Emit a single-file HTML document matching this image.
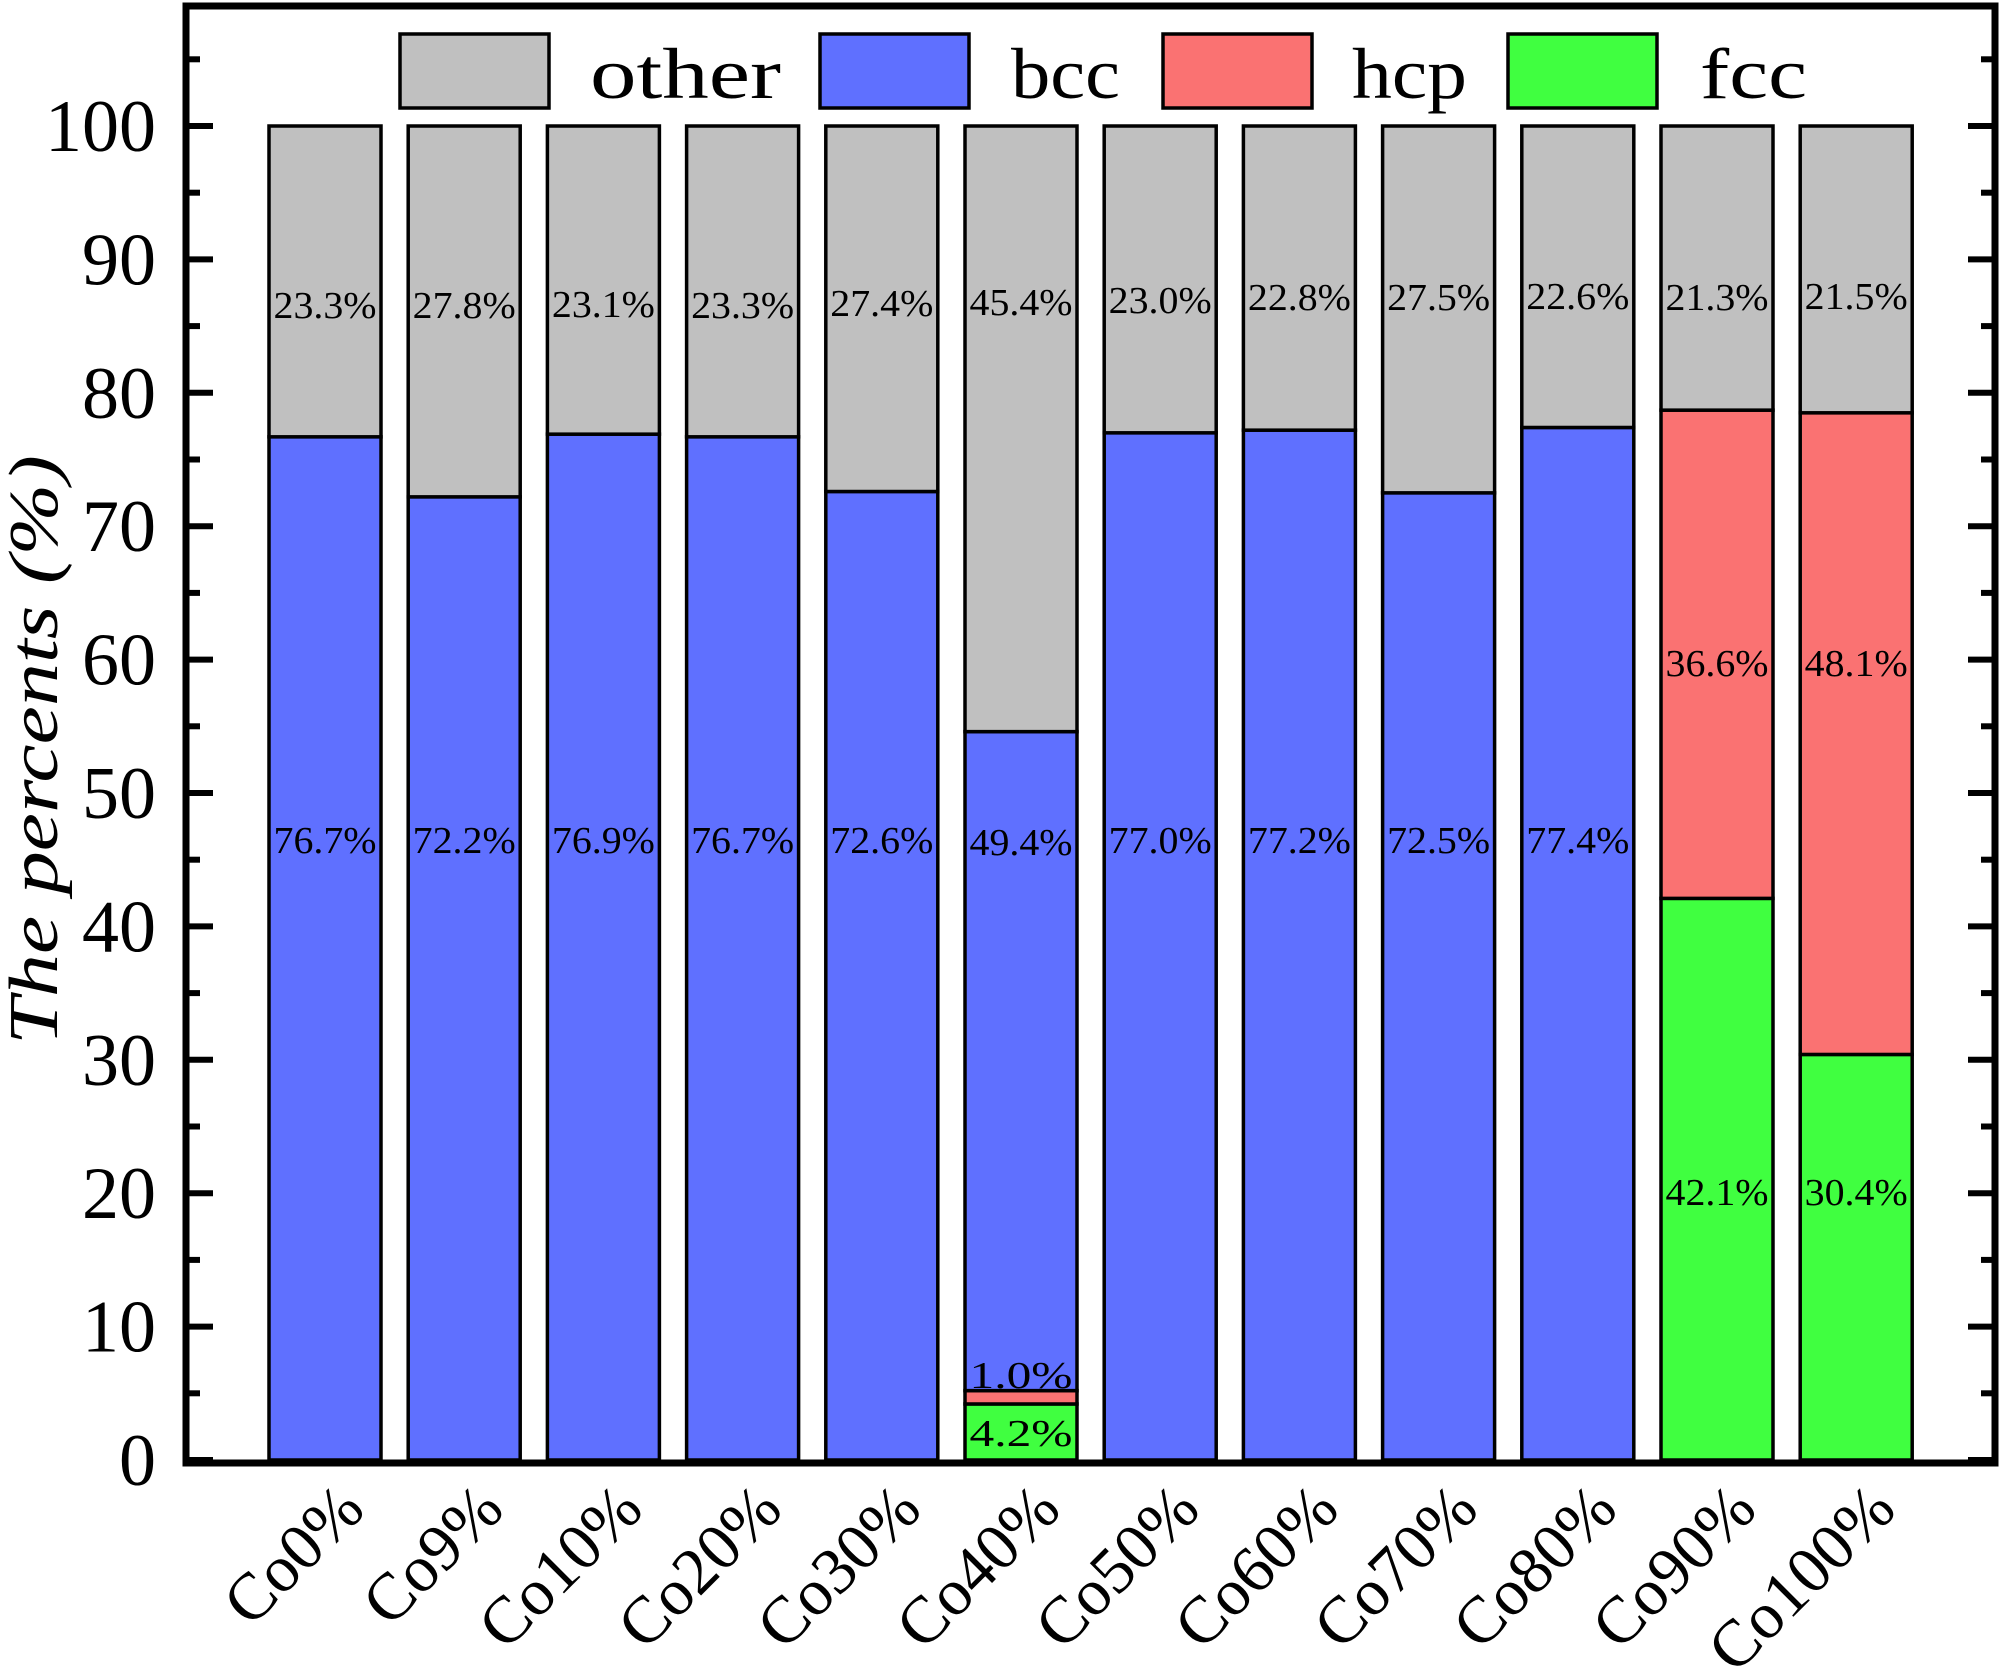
<!DOCTYPE html>
<html><head><meta charset="utf-8"><style>html,body{margin:0;padding:0;background:#fff}svg{display:block}</style></head>
<body>
<svg xmlns="http://www.w3.org/2000/svg" width="2000" height="1674" viewBox="0 0 2000 1674">
<rect width="2000" height="1674" fill="#fff"/>
<g id="bars" stroke="#000" stroke-width="3.5"></g>
<g id="lbl" font-family="Liberation Serif, serif" font-size="38" text-anchor="middle" fill="#000"></g>
<g id="axis"></g>
<script>
var ns="http://www.w3.org/2000/svg";
function y(v){return 1460-13.34*v;}
function el(p,t,a,txt){var e=document.createElementNS(ns,t);for(var k in a)e.setAttribute(k,a[k]);if(txt!==undefined)e.textContent=txt;p.appendChild(e);return e;}
var B=document.getElementById('bars'),L=document.getElementById('lbl'),A=document.getElementById('axis');
var C={o:'#c0c0c0',b:'#5f70ff',h:'#fa7272',f:'#40ff40'};
var data=[
 {n:'Co0%',f:0,h:0,b:76.7,o:23.3,ly:304},
 {n:'Co9%',f:0,h:0,b:72.2,o:27.8,ly:304},
 {n:'Co10%',f:0,h:0,b:76.9,o:23.1,ly:303},
 {n:'Co20%',f:0,h:0,b:76.7,o:23.3,ly:304},
 {n:'Co30%',f:0,h:0,b:72.6,o:27.4,ly:302},
 {n:'Co40%',f:4.2,h:1.0,b:49.4,o:45.4,ly:301},
 {n:'Co50%',f:0,h:0,b:77.0,o:23.0,ly:299},
 {n:'Co60%',f:0,h:0,b:77.2,o:22.8,ly:296},
 {n:'Co70%',f:0,h:0,b:72.5,o:27.5,ly:296},
 {n:'Co80%',f:0,h:0,b:77.4,o:22.6,ly:295},
 {n:'Co90%',f:42.1,h:36.6,b:0,o:21.3,ly:296},
 {n:'Co100%',f:30.4,h:48.1,b:0,o:21.5,ly:295}];
data.forEach(function(d,i){
 var x=269+i*139.2,w=112,cx=x+w/2,base=0;
 [['f',d.f],['h',d.h],['b',d.b],['o',d.o]].forEach(function(s){
  if(s[1]<=0)return;
  var top=base+s[1]; if(s[0]=='o')top=100;
  el(B,'rect',{x:x,y:y(top),width:w,height:y(base)-y(top),fill:C[s[0]]});
  base=top;});
 function t(yy,s){el(L,'text',{x:cx,y:yy+14,textLength:103,lengthAdjust:'spacingAndGlyphs'},s);}
 t(d.ly,d.o.toFixed(1)+'%');
 if(d.b>0)t(i==5?841:839,d.b.toFixed(1)+'%');
 if(i==5){t(1374,'1.0%');t(1432,'4.2%');}
 if(i>=10){t(662,d.h.toFixed(1)+'%');t(1191,d.f.toFixed(1)+'%');}
 el(A,'text',{x:cx+42,y:1512,transform:'rotate(-45 '+(cx+42)+' 1512)','text-anchor':'end','font-family':'Liberation Serif, serif','font-size':66},d.n);
});
el(A,'rect',{x:186,y:6,width:1809,height:1457,fill:'none',stroke:'#000','stroke-width':7});
for(var v=0;v<=105;v+=5){
 var yy=y(v); if(yy<10)continue;
 var len=(v%10==0)?27:14;
 el(A,'line',{x1:186,x2:186+len,y1:yy,y2:yy,stroke:'#000','stroke-width':6});
 el(A,'line',{x1:1995,x2:1995-len,y1:yy,y2:yy,stroke:'#000','stroke-width':6});
 if(v%10==0&&v<=100)el(A,'text',{x:156,y:yy+25,'text-anchor':'end','font-family':'Liberation Serif, serif','font-size':74},String(v));
}
el(A,'text',{x:57,y:750,transform:'rotate(-90 57 750)','text-anchor':'middle','font-family':'Liberation Serif, serif','font-size':70,'font-style':'italic',textLength:590,lengthAdjust:'spacingAndGlyphs'},'The percents (%)');
[['o','other',400,590,191],['b','bcc',820,1011,109],['h','hcp',1163,1352,115],['f','fcc',1508,1700,107]].forEach(function(l){
 el(A,'rect',{x:l[2],y:34,width:149,height:74,fill:C[l[0]],stroke:'#000','stroke-width':3.5});
 el(A,'text',{x:l[3],y:98,'font-family':'Liberation Serif, serif','font-size':72,textLength:l[4],lengthAdjust:'spacingAndGlyphs'},l[1]);
});
</script>
</svg>
</body></html>
